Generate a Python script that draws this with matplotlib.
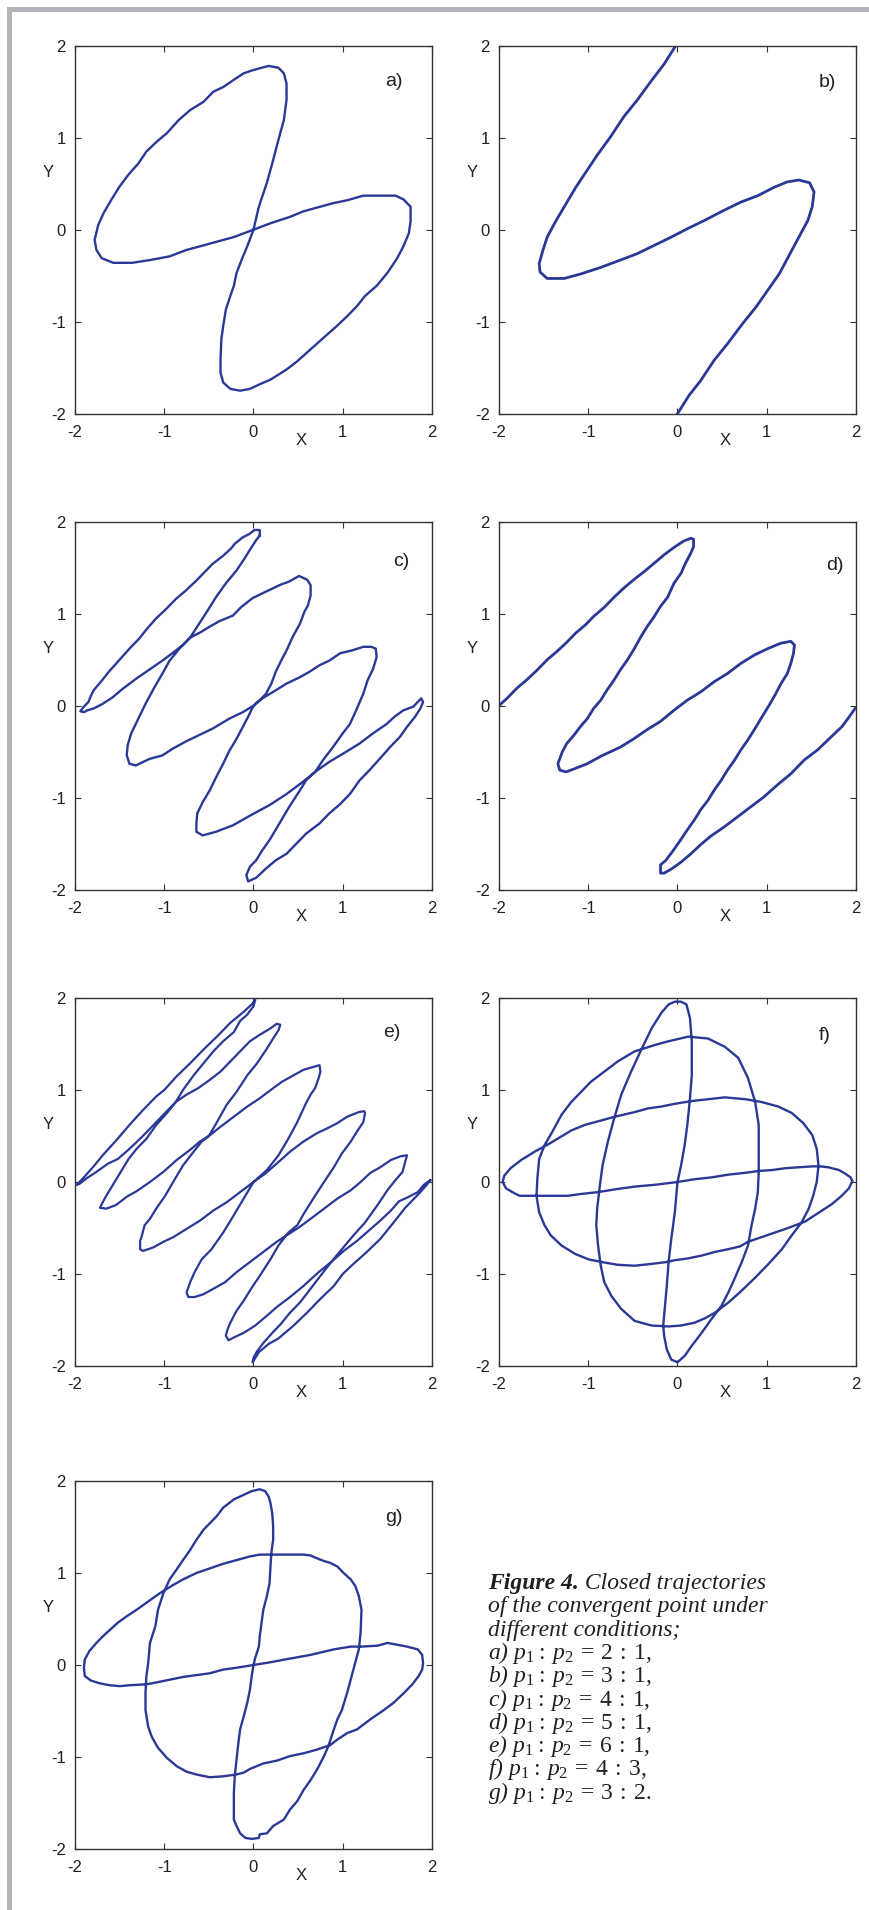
import matplotlib.pyplot as plt
from matplotlib.patches import Rectangle

plt.rcParams['font.family'] = ['Liberation Sans', 'DejaVu Sans']
plt.rcParams['axes.unicode_minus'] = False
plt.rcParams['mathtext.fontset'] = 'custom'
plt.rcParams['mathtext.rm'] = 'Liberation Serif'
plt.rcParams['mathtext.it'] = 'Liberation Serif:italic'

# trajectories, (X, Y) pairs
traj_a = [(0.00, 0.00), (0.06, 0.25), (0.15, 0.51), (0.21, 0.72), (0.28, 0.98), (0.34, 1.19),
          (0.37, 1.41), (0.37, 1.59), (0.34, 1.70), (0.28, 1.76), (0.17, 1.78), (0.09, 1.76),
          (-0.02, 1.73), (-0.11, 1.70), (-0.22, 1.63), (-0.34, 1.55), (-0.45, 1.50), (-0.56, 1.39),
          (-0.71, 1.30), (-0.84, 1.19), (-0.97, 1.05), (-1.08, 0.96), (-1.20, 0.85), (-1.29, 0.72),
          (-1.40, 0.60), (-1.50, 0.47), (-1.59, 0.33), (-1.68, 0.18), (-1.74, 0.05), (-1.78, -0.11),
          (-1.76, -0.22), (-1.70, -0.31), (-1.57, -0.36), (-1.36, -0.36), (-1.16, -0.33), (-0.94, -0.29),
          (-0.75, -0.22), (-0.56, -0.17), (-0.41, -0.13), (-0.22, -0.08), (0.00, 0.00), (0.19, 0.07),
          (0.41, 0.14), (0.56, 0.20), (0.71, 0.24), (0.90, 0.29), (1.05, 0.32), (1.23, 0.37),
          (1.59, 0.37), (1.68, 0.33), (1.76, 0.25), (1.76, 0.09), (1.74, -0.04), (1.68, -0.18),
          (1.61, -0.31), (1.50, -0.47), (1.38, -0.61), (1.25, -0.72), (1.16, -0.83), (1.05, -0.94),
          (0.93, -1.05), (0.79, -1.17), (0.64, -1.30), (0.49, -1.43), (0.37, -1.52), (0.19, -1.63),
          (0.07, -1.68), (-0.04, -1.73), (-0.15, -1.75), (-0.26, -1.73), (-0.34, -1.66), (-0.37, -1.55),
          (-0.37, -1.41), (-0.36, -1.19), (-0.34, -1.05), (-0.31, -0.87), (-0.26, -0.72), (-0.22, -0.61),
          (-0.19, -0.47), (-0.13, -0.32), (-0.07, -0.18), (0.00, 0.00)]

traj_b = [(-0.02, 2.00), (-0.15, 1.80), (-0.30, 1.61), (-0.45, 1.41), (-0.60, 1.23), (-0.75, 1.01),
          (-0.90, 0.81), (-1.01, 0.65), (-1.14, 0.46), (-1.25, 0.28), (-1.36, 0.10), (-1.46, -0.08),
          (-1.51, -0.23), (-1.55, -0.37), (-1.54, -0.46), (-1.46, -0.53), (-1.27, -0.53), (-1.08, -0.48),
          (-0.86, -0.41), (-0.64, -0.33), (-0.45, -0.26), (-0.26, -0.17), (-0.07, -0.08), (0.11, 0.01),
          (0.30, 0.10), (0.52, 0.21), (0.71, 0.30), (0.90, 0.37), (1.08, 0.46), (1.23, 0.52),
          (1.36, 0.54), (1.48, 0.51), (1.53, 0.41), (1.51, 0.25), (1.46, 0.10), (1.36, -0.08),
          (1.25, -0.28), (1.14, -0.48), (1.01, -0.66), (0.88, -0.84), (0.73, -1.02), (0.56, -1.24),
          (0.41, -1.42), (0.26, -1.64), (0.13, -1.80), (0.00, -2.00)]

traj_c = [(0.07, 1.85), (0.07, 1.91), (0.01, 1.91), (-0.04, 1.87), (-0.12, 1.83), (-0.21, 1.76),
          (-0.25, 1.71), (-0.34, 1.63), (-0.46, 1.54), (-0.55, 1.45), (-0.64, 1.36), (-0.76, 1.25),
          (-0.87, 1.16), (-0.98, 1.05), (-1.09, 0.95), (-1.19, 0.84), (-1.28, 0.73), (-1.39, 0.62),
          (-1.51, 0.49), (-1.62, 0.37), (-1.71, 0.26), (-1.79, 0.17), (-1.82, 0.11), (-1.85, 0.04),
          (-1.90, -0.01), (-1.94, -0.06), (-1.90, -0.07), (-1.86, -0.05), (-1.79, -0.03),
          (-1.69, 0.02), (-1.58, 0.09), (-1.47, 0.18), (-1.32, 0.29), (-1.17, 0.39), (-1.02, 0.49),
          (-0.91, 0.57), (-0.79, 0.66), (-0.71, 0.74), (-0.59, 0.80), (-0.49, 0.86), (-0.38, 0.92),
          (-0.23, 0.98), (-0.14, 1.07), (-0.01, 1.17), (0.14, 1.24), (0.29, 1.31), (0.40, 1.35),
          (0.51, 1.41), (0.60, 1.37), (0.64, 1.31), (0.64, 1.20), (0.61, 1.09),
          (0.57, 1.02), (0.52, 0.89), (0.44, 0.75), (0.37, 0.60), (0.31, 0.49), (0.25, 0.37),
          (0.20, 0.24), (0.14, 0.13), (0.07, 0.06), (0.00, 0.00), (-0.06, -0.12), (-0.12, -0.23),
          (-0.19, -0.36), (-0.27, -0.49), (-0.34, -0.63), (-0.42, -0.78), (-0.49, -0.92), (-0.57, -1.05),
          (-0.63, -1.17), (-0.64, -1.28), (-0.64, -1.37), (-0.57, -1.41),
          (-0.42, -1.37), (-0.23, -1.30), (-0.03, -1.19), (0.18, -1.08), (0.37, -0.96), (0.55, -0.83),
          (0.69, -0.72), (0.85, -0.61), (1.04, -0.50), (1.19, -0.41), (1.34, -0.30), (1.49, -0.20),
          (1.58, -0.12), (1.68, -0.05), (1.79, -0.01), (1.88, 0.08), (1.90, 0.04),
          (1.87, -0.03), (1.81, -0.12), (1.72, -0.23), (1.64, -0.34), (1.53, -0.45), (1.43, -0.56),
          (1.30, -0.70), (1.19, -0.81), (1.08, -0.96), (0.97, -1.07), (0.85, -1.17), (0.74, -1.28),
          (0.59, -1.39), (0.48, -1.50), (0.37, -1.61), (0.25, -1.68), (0.14, -1.77), (0.03, -1.87),
          (-0.06, -1.91), (-0.08, -1.84), (-0.04, -1.75),
          (0.03, -1.68), (0.10, -1.57), (0.18, -1.46), (0.29, -1.28), (0.40, -1.10), (0.52, -0.92),
          (0.59, -0.81), (0.69, -0.72), (0.78, -0.59), (0.89, -0.45), (1.00, -0.30), (1.08, -0.20),
          (1.15, -0.05), (1.23, 0.13), (1.28, 0.28), (1.34, 0.40), (1.38, 0.53), (1.37, 0.62),
          (1.32, 0.64), (1.23, 0.64),
          (1.10, 0.60), (0.97, 0.57), (0.85, 0.49), (0.74, 0.44), (0.63, 0.37), (0.52, 0.31),
          (0.37, 0.24), (0.22, 0.15), (0.10, 0.08), (0.00, 0.00), (-0.12, -0.07), (-0.27, -0.14),
          (-0.46, -0.25), (-0.61, -0.32), (-0.76, -0.39), (-0.91, -0.47), (-1.02, -0.54), (-1.17, -0.58),
          (-1.32, -0.65), (-1.39, -0.63), (-1.42, -0.54), (-1.41, -0.43),
          (-1.37, -0.30), (-1.30, -0.16), (-1.21, 0.02), (-1.11, 0.20), (-1.02, 0.35), (-0.94, 0.49),
          (-0.83, 0.62), (-0.71, 0.74), (-0.61, 0.89), (-0.51, 1.04), (-0.42, 1.18), (-0.31, 1.33),
          (-0.19, 1.47), (-0.10, 1.60), (-0.03, 1.71), (0.03, 1.80), (0.07, 1.85)]

traj_d = [(-1.99, 0.01), (-1.91, 0.08), (-1.80, 0.19), (-1.69, 0.28), (-1.57, 0.39), (-1.46, 0.50),
          (-1.35, 0.59), (-1.25, 0.68), (-1.14, 0.79), (-1.03, 0.88), (-0.94, 0.97), (-0.82, 1.07),
          (-0.71, 1.18), (-0.60, 1.28), (-0.49, 1.37), (-0.37, 1.46), (-0.26, 1.55), (-0.15, 1.64),
          (-0.04, 1.72), (0.07, 1.79), (0.15, 1.82), (0.18, 1.81), (0.18, 1.73),
          (0.15, 1.66), (0.09, 1.55), (0.04, 1.44), (-0.04, 1.33), (-0.11, 1.18), (-0.19, 1.08),
          (-0.26, 0.97), (-0.34, 0.86), (-0.41, 0.75), (-0.49, 0.61), (-0.56, 0.50), (-0.64, 0.39),
          (-0.71, 0.28), (-0.79, 0.17), (-0.86, 0.06), (-0.94, -0.03), (-1.01, -0.14), (-1.09, -0.23),
          (-1.16, -0.32), (-1.24, -0.41), (-1.29, -0.50), (-1.34, -0.63), (-1.32, -0.70), (-1.25, -0.72),
          (-1.14, -0.68),
          (-1.01, -0.63), (-0.86, -0.55), (-0.75, -0.50), (-0.64, -0.45), (-0.49, -0.36), (-0.34, -0.26),
          (-0.19, -0.17), (-0.04, -0.05), (0.11, 0.06), (0.26, 0.15), (0.41, 0.26), (0.56, 0.35),
          (0.71, 0.46), (0.86, 0.55), (1.01, 0.62), (1.16, 0.68), (1.27, 0.70), (1.31, 0.66),
          (1.30, 0.57),
          (1.27, 0.46), (1.23, 0.35), (1.16, 0.24), (1.10, 0.13), (1.03, 0.01), (0.96, -0.10),
          (0.88, -0.23), (0.79, -0.37), (0.71, -0.48), (0.64, -0.59), (0.56, -0.70), (0.49, -0.81),
          (0.41, -0.92), (0.34, -1.03), (0.26, -1.13), (0.19, -1.24), (0.11, -1.35), (0.02, -1.48),
          (-0.06, -1.59), (-0.13, -1.68), (-0.19, -1.73), (-0.19, -1.82), (-0.15, -1.82), (-0.06, -1.77),
          (0.04, -1.70), (0.15, -1.61), (0.26, -1.51), (0.37, -1.42), (0.52, -1.32), (0.67, -1.21),
          (0.82, -1.10), (0.97, -0.99), (1.12, -0.86), (1.27, -0.74), (1.42, -0.59), (1.57, -0.48),
          (1.72, -0.34), (1.84, -0.23), (1.91, -0.14), (1.99, -0.03)]

traj_e = [(1.98, 0.02), (1.91, -0.03), (1.84, -0.11), (1.72, -0.17), (1.63, -0.21), (1.54, -0.31),
          (1.42, -0.42), (1.29, -0.53), (1.16, -0.64), (1.01, -0.75), (0.87, -0.87), (0.73, -0.98),
          (0.56, -1.13), (0.41, -1.25), (0.26, -1.36), (0.13, -1.47), (0.02, -1.56), (-0.11, -1.64),
          (-0.22, -1.69), (-0.28, -1.72), (-0.31, -1.67), (-0.29, -1.60),
          (-0.26, -1.53), (-0.19, -1.40), (-0.11, -1.29), (-0.02, -1.15), (0.07, -1.02), (0.19, -0.84),
          (0.28, -0.69), (0.39, -0.55), (0.49, -0.47), (0.56, -0.35), (0.67, -0.18), (0.79, 0.00),
          (0.90, 0.16), (0.99, 0.31), (1.09, 0.44), (1.16, 0.55), (1.23, 0.65), (1.25, 0.75),
          (1.24, 0.77), (1.18, 0.76),
          (1.05, 0.71), (0.94, 0.64), (0.82, 0.58), (0.71, 0.53), (0.56, 0.44), (0.41, 0.33),
          (0.26, 0.20), (0.13, 0.09), (0.00, 0.00), (-0.15, -0.11), (-0.30, -0.22), (-0.45, -0.31),
          (-0.60, -0.42), (-0.75, -0.51), (-0.90, -0.60), (-1.01, -0.65), (-1.12, -0.71), (-1.24, -0.75),
          (-1.27, -0.73), (-1.27, -0.64),
          (-1.25, -0.58), (-1.22, -0.47), (-1.16, -0.40), (-1.09, -0.29), (-0.99, -0.15), (-0.90, 0.00),
          (-0.79, 0.18), (-0.67, 0.33), (-0.58, 0.44), (-0.50, 0.50), (-0.41, 0.65), (-0.30, 0.84),
          (-0.19, 0.98), (-0.07, 1.16), (0.04, 1.29), (0.15, 1.45), (0.22, 1.56), (0.28, 1.65),
          (0.30, 1.71), (0.26, 1.72),
          (0.19, 1.67), (0.07, 1.60), (-0.04, 1.53), (-0.15, 1.42), (-0.26, 1.31), (-0.37, 1.20),
          (-0.49, 1.11), (-0.62, 1.02), (-0.75, 0.95), (-0.87, 0.87), (-0.99, 0.75), (-1.12, 0.62),
          (-1.25, 0.49), (-1.39, 0.36), (-1.52, 0.25), (-1.63, 0.20), (-1.76, 0.11), (-1.87, 0.04),
          (-1.95, -0.02), (-1.98, -0.03),
          (-1.91, 0.04), (-1.80, 0.16), (-1.69, 0.29), (-1.54, 0.45), (-1.39, 0.62), (-1.24, 0.78),
          (-1.09, 0.93), (-1.00, 1.00), (-0.86, 1.15), (-0.71, 1.29), (-0.56, 1.44), (-0.41, 1.58),
          (-0.26, 1.73), (-0.11, 1.85), (-0.02, 1.93), (0.02, 1.98),
          (0.00, 1.91), (-0.07, 1.82), (-0.15, 1.75), (-0.22, 1.63), (-0.34, 1.53), (-0.45, 1.42),
          (-0.56, 1.29), (-0.67, 1.16), (-0.79, 1.00), (-0.87, 0.87), (-0.97, 0.75), (-1.09, 0.62),
          (-1.20, 0.47), (-1.31, 0.36), (-1.40, 0.25), (-1.50, 0.09), (-1.57, -0.02), (-1.65, -0.15),
          (-1.70, -0.24), (-1.72, -0.28), (-1.65, -0.29),
          (-1.54, -0.25), (-1.42, -0.16), (-1.31, -0.10), (-1.16, 0.00), (-1.01, 0.11), (-0.86, 0.24),
          (-0.71, 0.35), (-0.60, 0.44), (-0.50, 0.50), (-0.37, 0.60), (-0.22, 0.71), (-0.07, 0.82),
          (0.07, 0.91), (0.22, 1.02), (0.32, 1.09), (0.45, 1.16), (0.56, 1.22), (0.67, 1.25),
          (0.74, 1.27), (0.75, 1.20),
          (0.73, 1.13), (0.69, 1.02), (0.64, 0.95), (0.58, 0.84), (0.49, 0.65), (0.39, 0.47),
          (0.28, 0.29), (0.15, 0.13), (0.00, 0.00), (-0.11, -0.18), (-0.22, -0.36), (-0.34, -0.55),
          (-0.47, -0.73), (-0.58, -0.84), (-0.66, -0.98), (-0.71, -1.09), (-0.75, -1.20), (-0.73, -1.25),
          (-0.66, -1.25),
          (-0.56, -1.22), (-0.45, -1.16), (-0.32, -1.09), (-0.19, -0.98), (-0.04, -0.87), (0.11, -0.76),
          (0.26, -0.65), (0.37, -0.58), (0.50, -0.50), (0.64, -0.40), (0.79, -0.29), (0.94, -0.18),
          (1.09, -0.09), (1.20, 0.00), (1.31, 0.10), (1.42, 0.16), (1.54, 0.24), (1.65, 0.28),
          (1.72, 0.29), (1.70, 0.22),
          (1.67, 0.11), (1.59, 0.02), (1.50, -0.09), (1.39, -0.25), (1.25, -0.44), (1.12, -0.58),
          (0.99, -0.73), (0.87, -0.87), (0.75, -1.02), (0.64, -1.16), (0.52, -1.31), (0.41, -1.42),
          (0.30, -1.55), (0.22, -1.63), (0.11, -1.75), (0.04, -1.84), (0.00, -1.91), (-0.01, -1.96),
          (0.06, -1.85), (0.17, -1.76), (0.28, -1.70), (0.45, -1.56), (0.60, -1.42), (0.75, -1.27),
          (0.90, -1.13), (1.00, -1.00), (1.12, -0.89), (1.27, -0.76), (1.42, -0.62), (1.57, -0.44),
          (1.70, -0.28), (1.80, -0.18), (1.87, -0.11), (1.95, -0.02), (1.98, 0.02)]

traj_f = [(0.00, 0.00), (0.19, 0.03), (0.38, 0.05), (0.57, 0.08), (0.76, 0.10), (0.91, 0.12),
          (1.06, 0.13), (1.21, 0.15), (1.36, 0.16), (1.51, 0.17), (1.60, 0.17), (1.69, 0.16),
          (1.81, 0.13), (1.88, 0.09), (1.94, 0.05), (1.96, 0.01), (1.92, -0.07), (1.84, -0.15),
          (1.73, -0.24), (1.62, -0.31), (1.51, -0.38), (1.43, -0.43), (1.32, -0.47), (1.21, -0.51),
          (1.09, -0.55), (0.94, -0.60), (0.79, -0.65), (0.70, -0.70), (0.57, -0.73), (0.42, -0.76),
          (0.27, -0.80), (0.12, -0.83), (-0.03, -0.85), (-0.12, -0.87), (-0.29, -0.89), (-0.48, -0.91),
          (-0.67, -0.90), (-0.85, -0.87), (-1.00, -0.84), (-1.15, -0.78), (-1.30, -0.69), (-1.42, -0.58),
          (-1.49, -0.47), (-1.55, -0.33), (-1.58, -0.15), (-1.57, 0.04), (-1.55, 0.25), (-1.49, 0.40),
          (-1.40, 0.55), (-1.30, 0.73), (-1.19, 0.87), (-1.08, 0.98), (-0.97, 1.09), (-0.82, 1.20),
          (-0.67, 1.31), (-0.48, 1.42), (-0.25, 1.49), (-0.10, 1.53), (0.12, 1.58), (0.34, 1.56),
          (0.53, 1.47), (0.68, 1.35), (0.79, 1.13), (0.87, 0.87), (0.91, 0.62), (0.91, 0.40),
          (0.91, 0.11), (0.90, -0.11), (0.87, -0.29), (0.83, -0.47), (0.79, -0.69), (0.72, -0.87),
          (0.64, -1.05), (0.57, -1.20), (0.49, -1.35), (0.38, -1.49), (0.27, -1.64), (0.16, -1.78),
          (0.08, -1.89), (0.00, -1.96), (-0.07, -1.93), (-0.12, -1.82), (-0.15, -1.67), (-0.16, -1.56),
          (-0.14, -1.35), (-0.12, -1.13), (-0.10, -0.87), (-0.07, -0.62), (-0.03, -0.33), (0.00, 0.00),
          (0.04, 0.18), (0.08, 0.40), (0.11, 0.62), (0.14, 0.91), (0.16, 1.16), (0.16, 1.53),
          (0.14, 1.78), (0.10, 1.93), (0.04, 1.96), (-0.03, 1.96), (-0.10, 1.93), (-0.18, 1.84),
          (-0.29, 1.67), (-0.40, 1.45), (-0.52, 1.20), (-0.63, 0.95), (-0.71, 0.69), (-0.78, 0.44),
          (-0.84, 0.18), (-0.87, -0.04), (-0.90, -0.29), (-0.91, -0.47), (-0.89, -0.69), (-0.86, -0.91),
          (-0.82, -1.09), (-0.74, -1.24), (-0.63, -1.38), (-0.48, -1.51), (-0.29, -1.56), (-0.10, -1.57),
          (0.04, -1.56), (0.19, -1.53), (0.31, -1.48), (0.42, -1.42), (0.57, -1.31), (0.72, -1.18),
          (0.87, -1.04), (1.02, -0.89), (1.17, -0.73), (1.28, -0.58), (1.39, -0.44), (1.47, -0.29),
          (1.52, -0.15), (1.56, 0.00), (1.58, 0.18), (1.56, 0.36), (1.51, 0.51), (1.41, 0.64),
          (1.28, 0.75), (1.13, 0.82), (0.94, 0.87), (0.76, 0.90), (0.53, 0.92), (0.34, 0.90),
          (0.16, 0.88), (-0.03, 0.85), (-0.18, 0.82), (-0.33, 0.80), (-0.48, 0.76), (-0.70, 0.71),
          (-0.85, 0.67), (-1.04, 0.62), (-1.19, 0.56), (-1.43, 0.42), (-1.60, 0.33), (-1.75, 0.24),
          (-1.87, 0.15), (-1.94, 0.07), (-1.96, 0.00), (-1.92, -0.07), (-1.85, -0.11), (-1.77, -0.15),
          (-1.68, -0.15), (-1.49, -0.15), (-1.23, -0.15), (-1.08, -0.13), (-0.89, -0.11), (-0.70, -0.08),
          (-0.48, -0.05), (-0.25, -0.03), (0.00, 0.00)]

traj_g = [(0.00, 0.00), (0.19, 0.03), (0.41, 0.07), (0.64, 0.11), (0.90, 0.17), (1.09, 0.20),
          (1.21, 0.20), (1.39, 0.21), (1.50, 0.24), (1.61, 0.22), (1.72, 0.20), (1.84, 0.17),
          (1.89, 0.11), (1.90, 0.02), (1.89, -0.05), (1.85, -0.12), (1.78, -0.21), (1.69, -0.30),
          (1.57, -0.41), (1.46, -0.49), (1.31, -0.59), (1.16, -0.70), (1.05, -0.74), (0.94, -0.81),
          (0.86, -0.87), (0.71, -0.92), (0.56, -0.96), (0.41, -0.99), (0.26, -1.04), (0.11, -1.07),
          (-0.04, -1.13), (-0.11, -1.17), (-0.19, -1.19), (-0.34, -1.21), (-0.49, -1.22), (-0.64, -1.19),
          (-0.75, -1.16), (-0.86, -1.10), (-0.97, -1.01), (-1.07, -0.90), (-1.14, -0.78), (-1.18, -0.67),
          (-1.21, -0.49), (-1.21, -0.30), (-1.20, -0.12), (-1.18, 0.02), (-1.16, 0.24), (-1.10, 0.42),
          (-1.07, 0.60), (-1.01, 0.78), (-0.94, 0.93), (-0.86, 1.04), (-0.79, 1.14), (-0.71, 1.25),
          (-0.64, 1.36), (-0.56, 1.47), (-0.49, 1.54), (-0.41, 1.62), (-0.34, 1.71), (-0.22, 1.80),
          (-0.11, 1.85), (-0.02, 1.89), (0.07, 1.91), (0.13, 1.89), (0.17, 1.83), (0.19, 1.76),
          (0.21, 1.65), (0.22, 1.51), (0.22, 1.36), (0.20, 1.22), (0.19, 1.07), (0.18, 0.89),
          (0.15, 0.75), (0.11, 0.60), (0.09, 0.46), (0.07, 0.31), (0.06, 0.20), (0.02, 0.08),
          (0.00, 0.00), (-0.02, -0.12), (-0.04, -0.27), (-0.07, -0.41), (-0.11, -0.56), (-0.15, -0.70),
          (-0.17, -0.85), (-0.19, -1.03), (-0.21, -1.21), (-0.22, -1.39), (-0.22, -1.57), (-0.22, -1.68),
          (-0.19, -1.75), (-0.15, -1.83), (-0.09, -1.88), (-0.02, -1.89), (0.06, -1.88), (0.07, -1.84),
          (0.15, -1.83), (0.22, -1.75), (0.34, -1.68), (0.41, -1.57), (0.49, -1.48), (0.56, -1.36),
          (0.64, -1.25), (0.71, -1.14), (0.79, -0.99), (0.84, -0.88), (0.90, -0.70), (0.94, -0.59),
          (0.99, -0.49), (1.05, -0.30), (1.10, -0.12), (1.14, 0.02), (1.18, 0.17), (1.20, 0.35),
          (1.21, 0.60), (1.18, 0.75), (1.14, 0.86), (1.09, 0.93), (1.01, 1.00), (0.94, 1.07),
          (0.86, 1.11), (0.79, 1.13), (0.71, 1.16), (0.64, 1.19), (0.56, 1.20), (0.37, 1.20),
          (0.19, 1.20), (0.07, 1.20), (-0.04, 1.18), (-0.19, 1.14), (-0.34, 1.10), (-0.49, 1.05),
          (-0.64, 1.00), (-0.79, 0.93), (-0.90, 0.87), (-1.05, 0.78), (-1.18, 0.69), (-1.31, 0.60),
          (-1.42, 0.53), (-1.52, 0.46), (-1.61, 0.38), (-1.69, 0.31), (-1.76, 0.24), (-1.84, 0.15),
          (-1.89, 0.06), (-1.90, -0.03), (-1.89, -0.12), (-1.82, -0.17), (-1.72, -0.20), (-1.61, -0.22),
          (-1.50, -0.23), (-1.39, -0.22), (-1.20, -0.21), (-1.09, -0.19), (-0.94, -0.16), (-0.79, -0.13),
          (-0.64, -0.11), (-0.49, -0.09), (-0.34, -0.05), (-0.19, -0.03), (0.00, 0.00)]

trajectories = [traj_a, traj_b, traj_c, traj_d, traj_e, traj_f, traj_g]
panel_names = ['a)', 'b)', 'c)', 'd)', 'e)', 'f)', 'g)']
tick_values = [-2, -1, 0, 1, 2]
tick_labels = ['-2', '-1', '0', '1', '2']

caption_head = 'Figure 4.'
caption_rest = ' Closed trajectories'
caption_lines = ['of the convergent point under',
                 'different conditions;',
                 r'a) $p_1\:\!:\:p_2\:=\:2\::\:1,$',
                 r'b) $p_1\:\!:\:p_2\:=\:3\::\:1,$',
                 r'c) $p_1\:\!:\:p_2\:=\:4\::\:1,$',
                 r'd) $p_1\:\!:\:p_2\:=\:5\::\:1,$',
                 r'e) $p_1\:\!:\:p_2\:=\:6\::\:1,$',
                 r'f) $p_1\:\!:\:p_2\:=\:4\::\:3,$',
                 r'g) $p_1\:\!:\:p_2\:=\:3\::\:2.$']

W, H = 870, 1910
line_col = '#2a3896'
txt_col = '#231f20'

fig = plt.figure(figsize=(W / 100, H / 100), dpi=100)
fig.patch.set_facecolor('white')

# grey page border (top + left)
fig.patches.append(Rectangle((7 / W, 0), 5 / W, (H - 7) / H, transform=fig.transFigure,
                             facecolor='#b3b3bb', edgecolor='none'))
fig.patches.append(Rectangle((7 / W, 1 - 12 / H), 1, 5 / H, transform=fig.transFigure,
                             facecolor='#b3b3bb', edgecolor='none'))

# panel boxes in pixels: left, top
boxes = [(75, 45.7), (499, 45.7), (75, 521.7), (499, 521.7),
         (75, 998), (499, 998), (75, 1481)]
aw, ah = 357, 368
name_pos = [(0.894, 0.904), (0.919, 0.899), (0.915, 0.893), (0.941, 0.882),
            (0.888, 0.906), (0.913, 0.898), (0.894, 0.900)]
widths = [1.7, 2.0, 1.7, 2.0, 1.6, 1.7, 1.7]

for i, traj in enumerate(trajectories):
    px, py = boxes[i]
    ax = fig.add_axes([px / W, 1 - (py + ah) / H, aw / W, ah / H])
    xs = [p[0] for p in traj]
    ys = [p[1] for p in traj]
    ax.plot(xs, ys, color=line_col, lw=widths[i], solid_joinstyle='round')
    ax.set_xlim(-2, 2)
    ax.set_ylim(-2, 2)
    ax.set_xticks(tick_values)
    ax.set_yticks(tick_values)
    ax.set_xticklabels(tick_labels)
    ax.set_yticklabels(tick_labels)
    ax.tick_params(direction='in', top=True, right=True, length=4.5, width=0.8,
                   labelsize=12, colors='#333333', labelcolor=txt_col)
    ax.tick_params(axis='x', pad=8)
    ax.tick_params(axis='y', pad=6.5)
    for sp in ax.spines.values():
        sp.set_linewidth(1.0)
        sp.set_color('#333333')
    ax.text(0.633, -0.073, 'X', transform=ax.transAxes, ha='center', va='center',
            fontsize=12, color=txt_col)
    ax.text(-0.074, 0.655, 'Y', transform=ax.transAxes, ha='center', va='center',
            fontsize=12, color=txt_col)
    nx, ny = name_pos[i]
    ax.text(nx, ny, panel_names[i], transform=ax.transAxes, ha='center', va='center',
            fontsize=14, color=txt_col)

# caption
cap_x = 488
base_y = 1589
step = 23.3
fsize = 17
head = fig.text(cap_x / W, 1 - base_y / H, caption_head, fontsize=fsize, family='Liberation Serif',
                style='italic', weight='bold', va='baseline', color=txt_col)
renderer = fig.canvas.get_renderer()
bb = head.get_window_extent(renderer)
fig.text(bb.x1 / fig.bbox.width, 1 - base_y / H, caption_rest, fontsize=fsize,
         family='Liberation Serif', style='italic', va='baseline', color=txt_col)
for k, line in enumerate(caption_lines):
    fig.text(cap_x / W, 1 - (base_y + step * (k + 1)) / H, line, fontsize=fsize,
             family='Liberation Serif', style='italic', va='baseline', color=txt_col)

fig.savefig('out.png', dpi=100)
